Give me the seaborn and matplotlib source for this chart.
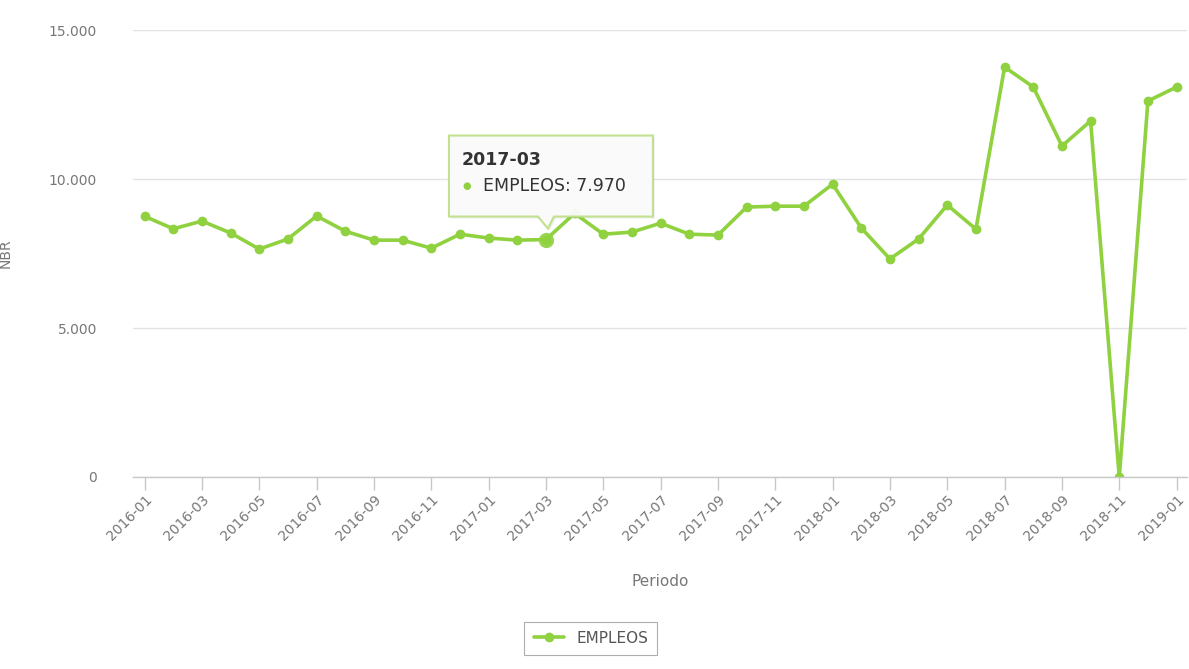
import pandas as pd
import numpy as np
import matplotlib.pyplot as plt
import matplotlib.ticker as mticker
import matplotlib.transforms as mtransforms
from matplotlib.patches import Polygon
import seaborn as sns

sns.set_theme(style="white")
plt.rcParams['font.family'] = ['DejaVu Sans']

# Monthly periods and values
periods = ['2016-01', '2016-02', '2016-03', '2016-04', '2016-05', '2016-06',
           '2016-07', '2016-08', '2016-09', '2016-10', '2016-11', '2016-12',
           '2017-01', '2017-02', '2017-03', '2017-04', '2017-05', '2017-06',
           '2017-07', '2017-08', '2017-09', '2017-10', '2017-11', '2017-12',
           '2018-01', '2018-02', '2018-03', '2018-04', '2018-05', '2018-06',
           '2018-07', '2018-08', '2018-09', '2018-10', '2018-11', '2018-12',
           '2019-01']
empleos = [8750, 8330, 8590, 8190, 7650, 7990,
           8760, 8250, 7950, 7950, 7680, 8150,
           8020, 7950, 7970, 8850, 8150, 8220,
           8520, 8150, 8120, 9060, 9090, 9090,
           9830, 8360, 7320, 7990, 9130, 8320,
           13760, 13090, 11110, 11950, 0, 12620,
           13090]
y_ticks = [0, 5000, 10000, 15000]
tooltip_period = '2017-03'

df = pd.DataFrame({'Periodo': periods, 'EMPLEOS': empleos})

green = '#8fd13f'
grey_text = '#777777'


def miles(v, pos=None):
    return f'{int(v):,}'.replace(',', '.')


fig = plt.figure(figsize=(11.89, 6.69), dpi=100)
ax = fig.add_axes([0.112, 0.287, 0.886, 0.668])

sns.lineplot(data=df, x='Periodo', y='EMPLEOS', ax=ax, color=green,
             linewidth=2.6, marker='o', markersize=7, markeredgewidth=0,
             label='EMPLEOS', sort=False)

# hovered point
hi = periods.index(tooltip_period)
ax.plot(hi, empleos[hi], 'o', color=green, markersize=11, markeredgewidth=0,
        alpha=0.9, zorder=5)

ax.set_ylim(0, 15000)
ax.set_xlim(-0.4, len(periods) - 0.65)
ax.set_yticks(y_ticks)
ax.yaxis.set_major_formatter(mticker.FuncFormatter(miles))
ax.set_xticks(range(0, len(periods), 2))
ax.set_xticklabels(periods[::2], rotation=45, ha='right', rotation_mode='anchor')

ax.grid(axis='y', color='#e3e3e3', linewidth=1)
ax.grid(axis='x', visible=False)
for s in ['top', 'right', 'left']:
    ax.spines[s].set_visible(False)
ax.spines['bottom'].set_color('#c8c8c8')
ax.spines['bottom'].set_linewidth(1)
ax.tick_params(axis='x', which='major', bottom=True, length=9, width=1,
               color='#c8c8c8', labelsize=10, labelcolor=grey_text, pad=2)
ax.tick_params(axis='y', left=False, labelsize=10, labelcolor=grey_text, pad=20)

ax.set_xlabel('Periodo', fontsize=11, color=grey_text, labelpad=22)
ax.set_ylabel('NBR', fontsize=10, color=grey_text, labelpad=26)

# tooltip, drawn in pixel offsets from the hovered point
tip_tr = mtransforms.Affine2D() + mtransforms.ScaledTranslation(hi, empleos[hi], ax.transData)
outline = [(-97, 104), (107, 104), (107, 23), (8, 23), (2, 11), (-8, 23), (-97, 23)]
shadow = Polygon([(x + 2, y - 2) for x, y in outline], closed=True, fc='#000000',
                 ec='none', alpha=0.06, transform=tip_tr, zorder=6, clip_on=False)
box = Polygon(outline, closed=True, fc='#fbfbfb', ec='#bfe08c', lw=1.5,
              alpha=0.96, transform=tip_tr, zorder=6.1, clip_on=False)
ax.add_patch(shadow)
ax.add_patch(box)
ax.text(-84, 80, tooltip_period, transform=tip_tr, fontsize=12.5, fontweight='bold',
        color='#333333', ha='left', va='center', zorder=7)
ax.text(-79, 54, '\u25CF', transform=tip_tr, fontsize=7, color=green,
        ha='center', va='center', zorder=7)
ax.text(-63, 54, f'EMPLEOS: {miles(empleos[hi])}', transform=tip_tr, fontsize=12.5,
        color='#333333', ha='left', va='center', zorder=7)

leg = ax.legend(loc='center', bbox_to_anchor=(0.497, 0.046),
                bbox_transform=fig.transFigure, frameon=True, fancybox=False,
                fontsize=11, handlelength=2.0, borderpad=0.6)
leg.get_frame().set_edgecolor('#999999')
leg.get_frame().set_linewidth(0.8)
for t in leg.get_texts():
    t.set_color('#555555')

fig.savefig('out.png', dpi=100)
